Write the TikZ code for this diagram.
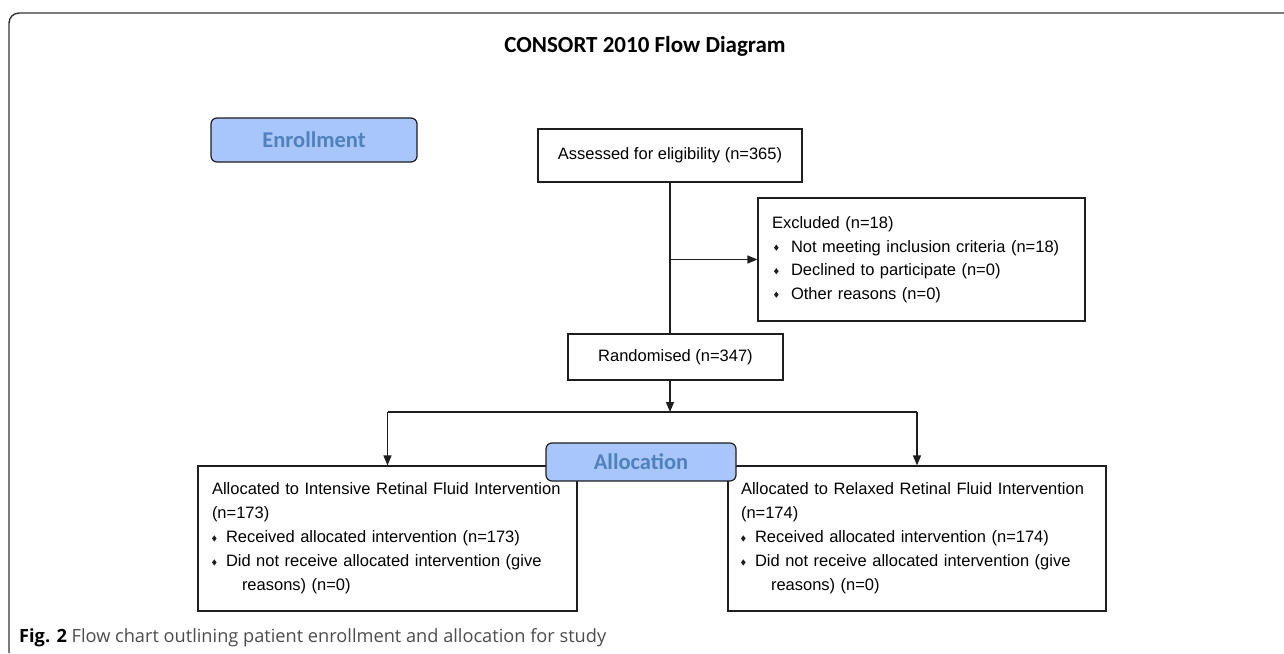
\documentclass[tikz,border=0pt]{standalone}
\usepackage{fontspec}
\setmainfont{Liberation Sans}
\newfontfamily\calib{Carlito}
\newfontfamily\opens{Open Sans}
\usetikzlibrary{arrows.meta}
\definecolor{hdrfill}{RGB}{168,198,250}
\definecolor{hdrtext}{RGB}{79,129,189}
\definecolor{lineclr}{RGB}{30,30,30}
\definecolor{capgray}{RGB}{77,77,77}
\newcommand{\dmdshape}{\tikz[baseline=0pt]\fill[lineclr] (0pt,4.3pt)--(2.3pt,7.4pt)--(4.6pt,4.3pt)--(2.3pt,1.2pt)--cycle;}
\newcommand{\dmd}[2][0pt]{\makebox[#2][l]{\hspace{#1}\dmdshape}}
\begin{document}
\begin{tikzpicture}[x=1pt,y=-1pt,
  box/.style={draw=lineclr, line width=1.2pt, fill=white, font=\fontsize{16.5}{24}\selectfont},
  listbox/.style={box, align=left, inner xsep=14pt, inner ysep=16pt, minimum height=145pt},
  hdr/.style={draw=lineclr, line width=1.2pt, fill=hdrfill, rounded corners=6pt, text=hdrtext,
    font=\calib\bfseries\fontsize{22.5}{26}\selectfont, inner sep=0pt},
  arr/.style={draw=lineclr, line width=1.3pt, -{Triangle[length=10pt,width=8pt]}},
  conn/.style={draw=lineclr, line width=1.3pt}]
\useasboundingbox (0,0) rectangle (1284,653);
\fill[white] (0,0) rectangle (1284,653);
% outer frame
\draw[line width=1.4pt, black!80, rounded corners=10pt] (9,653) -- (9,13) -- (1284,13);
% title
\node[font=\calib\bfseries\fontsize{23}{27}\selectfont, inner sep=0pt] (title) at (645,46) {CONSORT 2010 Flow Diagram};
% enrollment header
\node[hdr, minimum width=206pt, minimum height=44pt] (enroll) at (314,140) {Enrollment};
% boxes
\node[box, minimum width=264pt, minimum height=53pt, inner sep=0pt] (assess) at (670,155.5) {Assessed for eligibility (n=365)};
\node[box, align=left, text width=299pt, inner xsep=14pt, inner ysep=18pt, minimum height=123pt,
      font=\fontsize{16.5}{23.5}\selectfont] (excl) at (921.5,259.5)
  {Excluded (n=18)\\
   \dmd[2pt]{19pt}Not meeting inclusion criteria (n=18)\\
   \dmd[2pt]{19pt}Declined to participate (n=0)\\
   \dmd[2pt]{19pt}Other reasons (n=0)};
\node[box, minimum width=215pt, minimum height=46pt, inner sep=0pt] (rand) at (675.5,357) {Randomised (n=347)};
\node[listbox, text width=351pt] (left) at (387.5,538.5)
  {Allocated to Intensive Retinal Fluid Intervention\\
   (n=173)\\
   \dmd{14pt}Received allocated intervention (n=173)\\
   \dmd{14pt}Did not receive allocated intervention (give\\
   \hspace*{30pt}reasons) (n=0)};
\node[listbox, text width=352pt, inner xsep=13pt] (right) at (917,538.5)
  {Allocated to Relaxed Retinal Fluid Intervention\\
   (n=174)\\
   \dmd{14pt}Received allocated intervention (n=174)\\
   \dmd{14pt}Did not receive allocated intervention (give\\
   \hspace*{30pt}reasons) (n=0)};
% connectors
\coordinate (split) at (670,412);
\draw[conn] (assess.south) -- (assess.south |- rand.north);
\draw[arr] (assess.south |- excl.west) -- (excl.west);
\draw[arr] (rand.south -| split) -- (split);
\draw[conn] (left.north |- split) -- (right.north |- split);
\draw[arr] (left.north |- split) -- (left.north);
\draw[arr] (right.north |- split) -- (right.north);
% allocation header
\node[hdr, minimum width=190pt, minimum height=38pt] (alloc) at (641,462) {Allocation};
% caption
\node[anchor=base west, inner sep=0pt, font=\opens\fontsize{18.2}{20}\selectfont, text=capgray] (cap) at (19,642)
  {{\bfseries\color{black}Fig. 2} Flow chart outlining patient enrollment and allocation for study};
\end{tikzpicture}
\end{document}
